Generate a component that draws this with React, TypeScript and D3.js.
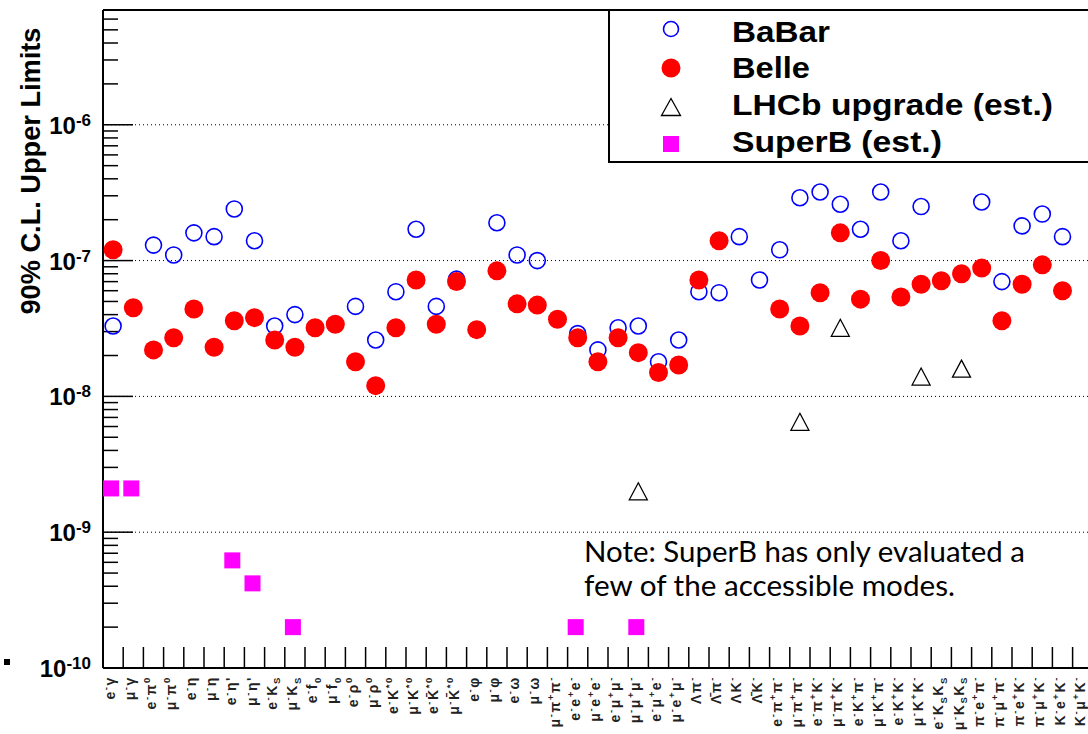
import React from 'react';
import * as d3 from 'd3';

// ---------- data ----------
const categories: string[] = [
  'e^-γ', 'μ^-γ', 'e^-π^0', 'μ^-π^0', 'e^-η', 'μ^-η', "e^-η'", "μ^-η'",
  'e^-K_S', 'μ^-K_S', 'e^-f_0', 'μ^-f_0', 'e^-ρ^0', 'μ^-ρ^0',
  'e^-K^{*0}', 'μ^-K^{*0}', 'e^-K\u0304^{*0}', 'μ^-K\u0304^{*0}',
  'e^-φ', 'μ^-φ', 'e^-ω', 'μ^-ω', 'μ^-π^+π^-',
  'e^-e^+e^-', 'μ^-e^+e^-', 'e^-μ^+μ^-', 'μ^-μ^+μ^-', 'e^-μ^+e^-', 'μ^-e^+μ^-',
  'Λπ^-', 'Λ\u0304π^-', 'ΛK^-', 'Λ\u0304K^-',
  'e^-π^+π^-', 'μ^-π^+π^-', 'e^-π^+K^-', 'μ^-π^+K^-', 'e^-K^+π^-', 'μ^-K^+π^-',
  'e^-K^+K^-', 'μ^-K^+K^-', 'e^-K_SK_S', 'μ^-K_SK_S',
  'π^-e^+π^-', 'π^-μ^+π^-', 'π^-e^+K^-', 'π^-μ^+K^-', 'K^-e^+K^-', 'K^-μ^+K^-',
];

const babar: (number | null)[] = [
  3.3e-8, null, 1.3e-7, 1.1e-7, 1.6e-7, 1.5e-7, 2.4e-7, 1.4e-7,
  3.3e-8, 4.0e-8, null, null, 4.6e-8, 2.6e-8,
  5.9e-8, 1.7e-7, 4.6e-8, 7.3e-8,
  null, 1.9e-7, 1.1e-7, 1.0e-7, null,
  2.9e-8, 2.2e-8, 3.2e-8, 3.3e-8, 1.8e-8, 2.6e-8,
  5.9e-8, 5.8e-8, 1.5e-7, 7.2e-8,
  1.2e-7, 2.9e-7, 3.2e-7, 2.6e-7, 1.7e-7, 3.2e-7,
  1.4e-7, 2.5e-7, null, null,
  2.7e-7, 7.0e-8, 1.8e-7, 2.2e-7, 1.5e-7, null,
];

const belle: (number | null)[] = [
  1.2e-7, 4.5e-8, 2.2e-8, 2.7e-8, 4.4e-8, 2.3e-8, 3.6e-8, 3.8e-8,
  2.6e-8, 2.3e-8, 3.2e-8, 3.4e-8, 1.8e-8, 1.2e-8,
  3.2e-8, 7.2e-8, 3.4e-8, 7.0e-8,
  3.1e-8, 8.4e-8, 4.8e-8, 4.7e-8, 3.7e-8,
  2.7e-8, 1.8e-8, 2.7e-8, 2.1e-8, 1.5e-8, 1.7e-8,
  7.2e-8, 1.4e-7, null, null,
  4.4e-8, 3.3e-8, 5.8e-8, 1.6e-7, 5.2e-8, 1.0e-7,
  5.4e-8, 6.7e-8, 7.1e-8, 8.0e-8,
  8.8e-8, 3.6e-8, 6.7e-8, 9.3e-8, 6.0e-8, null,
];

const lhcb: (number | null)[] = [
  null, null, null, null, null, null, null, null,
  null, null, null, null, null, null,
  null, null, null, null,
  null, null, null, null, null,
  null, null, null, 2.0e-9, null, null,
  null, null, null, null,
  null, 6.5e-9, null, 3.2e-8, null, null,
  null, 1.4e-8, null, 1.6e-8,
  null, null, null, null, null, null,
];

const superb: (number | null)[] = [
  2.1e-9, 2.1e-9, null, null, null, null, 6.2e-10, 4.2e-10,
  null, 2.0e-10, null, null, null, null,
  null, null, null, null,
  null, null, null, null, null,
  2.0e-10, null, null, 2.0e-10, null, null,
  null, null, null, null,
  null, null, null, null, null, null,
  null, null, null, null,
  null, null, null, null, null, null,
];

const yExponents: number[] = [-10, -9, -8, -7, -6];
const legendLabels: string[] = ['BaBar', 'Belle', 'LHCb upgrade (est.)', 'SuperB (est.)'];
const legendWidths: number[] = [98, 78, 321, 210];
const yTitle = '90% C.L. Upper Limits';
const noteLines: string[] = ['Note: SuperB has only evaluated a', 'few of the accessible modes.'];
const noteWidths: number[] = [441, 371];

// ---------- layout ----------
const W = 1088;
const H = 734;
const LEFT = 103;
const TOP = 10;
const BOTTOM = 668;
const BIN = 20.2;
const FONT = "'Liberation Sans', Arial, Helvetica, sans-serif";

const x = d3
  .scaleBand<string>()
  .domain(categories.map((_, i) => String(i)))
  .range([LEFT, LEFT + categories.length * BIN])
  .padding(0);
const cx = (i: number) => (x(String(i)) as number) + x.bandwidth() / 2;

const y = d3.scaleLog().domain([1e-10, 7e-6]).range([BOTTOM, TOP]);

type Seg = { t: string; k: 'n' | 'sup' | 'sub' };
function parseLabel(s: string): Seg[] {
  const out: Seg[] = [];
  let i = 0;
  let buf = '';
  while (i < s.length) {
    const c = s[i];
    if (c === '^' || c === '_') {
      if (buf) { out.push({ t: buf, k: 'n' }); buf = ''; }
      let t = '';
      if (s[i + 1] === '{') {
        const j = s.indexOf('}', i + 2);
        t = s.slice(i + 2, j);
        i = j + 1;
      } else {
        t = s[i + 1];
        i += 2;
      }
      out.push({ t, k: c === '^' ? 'sup' : 'sub' });
    } else {
      buf += c;
      i++;
    }
  }
  if (buf) out.push({ t: buf, k: 'n' });
  return out;
}

function RichLabel({ s, size, supSize, shift }: { s: string; size: number; supSize: number; shift: number }) {
  const segs = parseLabel(s);
  let cur = 0;
  return (
    <>
      {segs.map((g, j) => {
        const target = g.k === 'sup' ? -shift : g.k === 'sub' ? shift * 0.6 : 0;
        const dy = target - cur;
        cur = target;
        return (
          <tspan key={j} dy={dy} fontSize={g.k === 'n' ? size : supSize}>
            {g.t}
          </tspan>
        );
      })}
    </>
  );
}

function triPath(px: number, py: number, w: number, h: number) {
  return `M${px},${py - h / 2}L${px + w / 2},${py + h / 2}L${px - w / 2},${py + h / 2}Z`;
}

export default function App() {
  const majors = yExponents.map((e) => Math.pow(10, e));
  const minors: number[] = [];
  for (let e = -10; e <= -6; e++) {
    for (let m = 2; m <= 9; m++) {
      const v = m * Math.pow(10, e);
      if (v <= 7e-6) minors.push(v);
    }
  }
  const right = W + 10;
  const boundaries = categories.map((_, i) => x(String(i)) as number).slice(1);

  return (
    <svg
      width={W}
      height={H}
      style={{ position: 'absolute', left: 0, top: 0, background: '#fff' }}
      fontFamily={FONT}
    >
      <rect x={0} y={0} width={W} height={H} fill="#fff" />

      {/* dotted grid */}
      {majors.slice(1).map((v, i) => (
        <line key={i} x1={LEFT} x2={right} y1={y(v)} y2={y(v)} stroke="#000" strokeWidth={1} strokeDasharray="1 3" />
      ))}

      {/* y ticks */}
      {majors.map((v, i) => (
        <line key={'M' + i} x1={LEFT} x2={LEFT + 30} y1={y(v)} y2={y(v)} stroke="#000" strokeWidth={1.5} />
      ))}
      {minors.map((v, i) => (
        <line key={'m' + i} x1={LEFT} x2={LEFT + 15} y1={y(v)} y2={y(v)} stroke="#000" strokeWidth={1.5} />
      ))}

      {/* x ticks */}
      {boundaries.map((bx, i) => (
        <line key={'xt' + i} x1={bx} x2={bx} y1={BOTTOM} y2={BOTTOM - 21} stroke="#000" strokeWidth={1.5} />
      ))}

      {/* frame */}
      <line x1={LEFT} x2={right} y1={TOP} y2={TOP} stroke="#000" strokeWidth={2} />
      <line x1={LEFT} x2={right} y1={BOTTOM} y2={BOTTOM} stroke="#000" strokeWidth={2} />
      <line x1={LEFT} x2={LEFT} y1={TOP} y2={BOTTOM} stroke="#000" strokeWidth={2} />

      {/* y tick labels */}
      {yExponents.map((e, i) => (
        <text key={'yl' + i} x={91} y={y(Math.pow(10, e)) + 9} textAnchor="end" fontWeight="bold" fontSize={24} fill="#000">
          <tspan>10</tspan>
          <tspan dy={-8} fontSize={17}>{String(e)}</tspan>
        </text>
      ))}

      {/* y title */}
      <text
        transform={`translate(40,${171}) rotate(-90)`}
        textAnchor="middle"
        fontWeight="bold"
        fontSize={27}
        textLength={287}
        lengthAdjust="spacingAndGlyphs"
      >
        {yTitle}
      </text>

      {/* x labels */}
      {categories.map((c, i) => (
        <text
          key={'xl' + i}
          transform={`translate(${cx(i) + 2},${676}) rotate(-90)`}
          textAnchor="end"
          fontWeight="bold"
          fontSize={14}
          letterSpacing={1.6}
          fill="#222"
        >
          <RichLabel s={c} size={14} supSize={9.5} shift={6} />
        </text>
      ))}

      {/* SuperB */}
      {superb.map((v, i) =>
        v == null ? null : (
          <rect key={'sb' + i} x={cx(i) - 10} y={y(v) - 8} width={16} height={16} fill="#ff00ff" />
        )
      )}

      {/* LHCb */}
      {lhcb.map((v, i) =>
        v == null ? null : (
          <path key={'lh' + i} d={triPath(cx(i), y(v), 18, 17)} fill="none" stroke="#000" strokeWidth={1.3} />
        )
      )}

      {/* BaBar */}
      {babar.map((v, i) =>
        v == null ? null : (
          <circle key={'bb' + i} cx={cx(i)} cy={y(v)} r={8} fill="none" stroke="#0000ff" strokeWidth={1.6} />
        )
      )}

      {/* Belle */}
      {belle.map((v, i) =>
        v == null ? null : <circle key={'be' + i} cx={cx(i)} cy={y(v)} r={9.5} fill="#ff0000" />
      )}

      {/* legend */}
      <rect x={609} y={10} width={520} height={152} fill="#fff" stroke="#000" strokeWidth={2} />
      <circle cx={671} cy={29} r={7.5} fill="none" stroke="#0000ff" strokeWidth={1.6} />
      <circle cx={671} cy={68} r={9.5} fill="#ff0000" />
      <path d={triPath(671, 107, 19, 17)} fill="none" stroke="#000" strokeWidth={1.3} />
      <rect x={663} y={136} width={16} height={16} fill="#ff00ff" />
      {legendLabels.map((l, i) => (
        <text
          key={'lg' + i}
          x={732}
          y={[42, 78, 115, 152][i]}
          fontWeight="bold"
          fontSize={29}
          textLength={legendWidths[i]}
          lengthAdjust="spacingAndGlyphs"
        >
          {l}
        </text>
      ))}

      {/* note */}
      {noteLines.map((l, i) => (
        <text
          key={'nt' + i}
          x={584}
          y={562 + i * 34}
          fontFamily="Lato, 'Open Sans', sans-serif"
          fontSize={28}
          textLength={noteWidths[i]}
          lengthAdjust="spacingAndGlyphs"
        >
          {l}
        </text>
      ))}

      {/* small stray mark */}
      <rect x={4} y={659} width={6} height={6} fill="#000" />
    </svg>
  );
}
